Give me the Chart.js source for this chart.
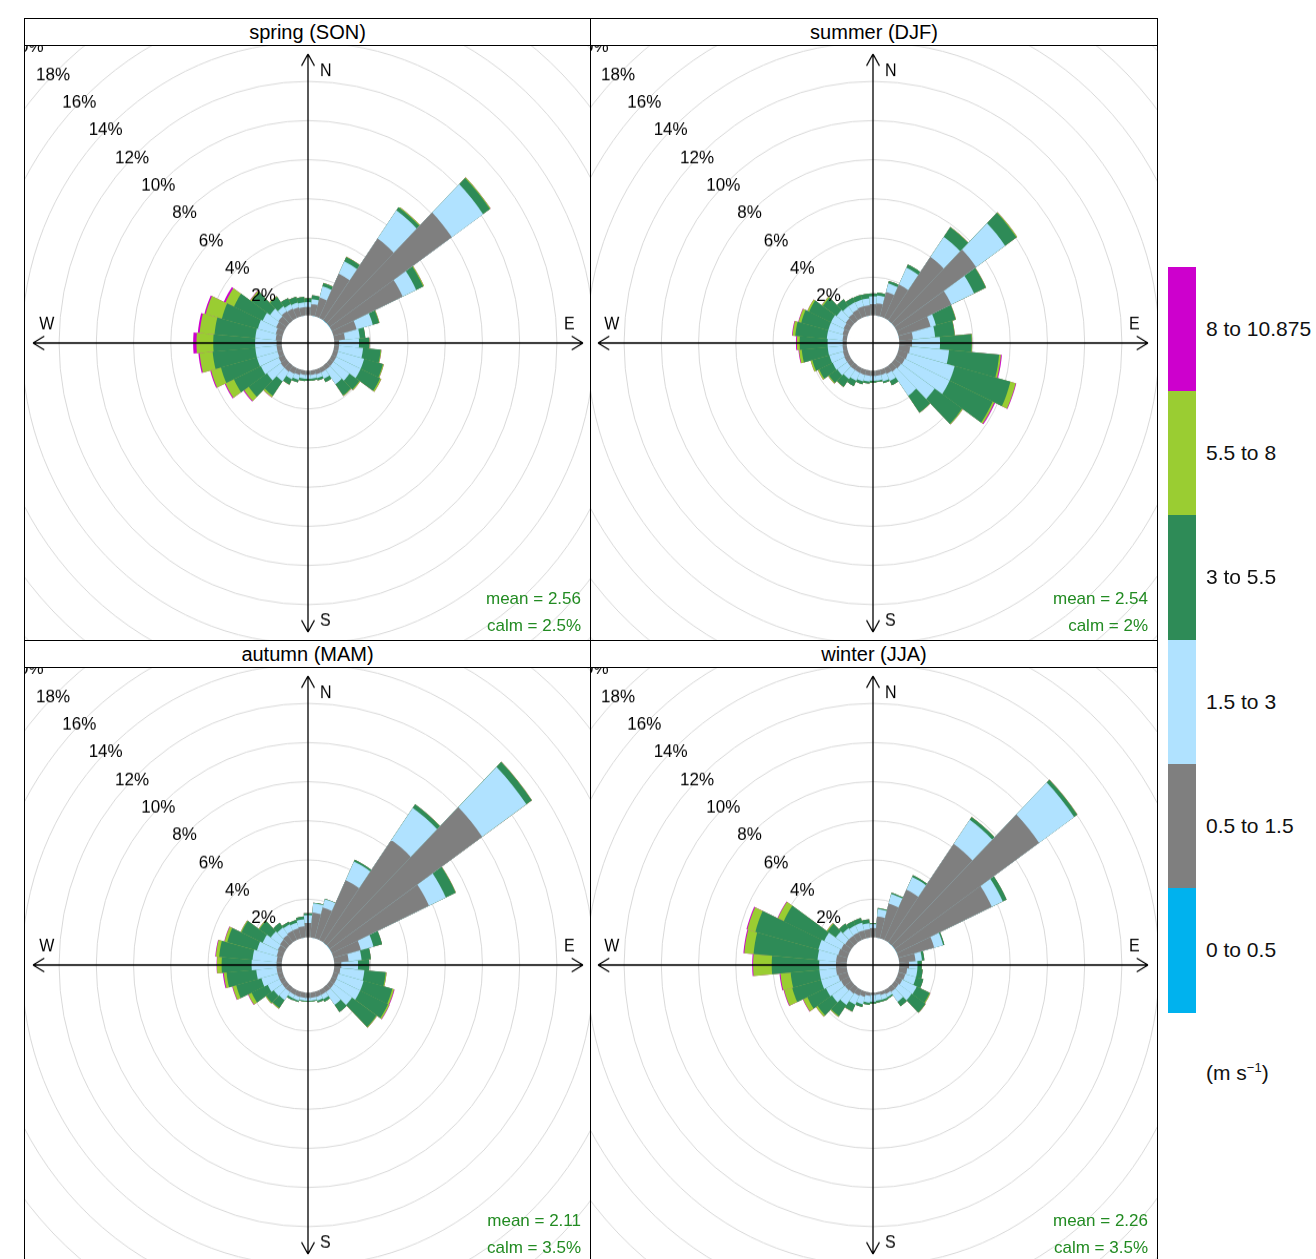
<!DOCTYPE html>
<html>
<head>
<meta charset="utf-8">
<title>Wind rose by season</title>
<script src="https://cdn.jsdelivr.net/npm/chart.js@4.4.1/dist/chart.umd.min.js"></script>
<style>
  html, body { margin: 0; padding: 0; background: #fff; }
  body { width: 1316px; height: 1259px; position: relative; overflow: hidden;
         font-family: "Liberation Sans", Arial, Helvetica, sans-serif; color: #000; }
  .panel { position: absolute; box-sizing: border-box; border: 1px solid #000; }
  .strip { position: absolute; left: 0; top: 0; right: 0; height: 27px; box-sizing: border-box;
           border-bottom: 1px solid #000; text-align: center; font-size: 20px; line-height: 26px; }
  .plot { position: absolute; left: 0; right: 0; top: 27px; bottom: 0; overflow: hidden; }
  .plot canvas { position: absolute; transform: scaleY(1.051); transform-origin: 50% 50%; }
  .stats { position: absolute; right: 9px; top: 539px; text-align: right; font-size: 17px;
           line-height: 27px; color: #228B22; }
  .key { position: absolute; left: 1168px; width: 28px; }
  .keylab { position: absolute; left: 1206px; font-size: 21px; line-height: 24px; color: #111; white-space: nowrap; }
  .keylab sup { font-size: 13px; line-height: 0; }
</style>
</head>
<body>
<script>
// wind direction bins (degrees, 10 degree sectors)
const directions = [0, 10, 20, 30, 40, 50, 60, 70, 80, 90, 100, 110, 120, 130, 140, 150, 160, 170,
                    180, 190, 200, 210, 220, 230, 240, 250, 260, 270, 280, 290, 300, 310, 320, 330, 340, 350];
const speedBins = ["0 to 0.5", "0.5 to 1.5", "1.5 to 3", "3 to 5.5", "5.5 to 8", "8 to 10.875"];
const binColours = ["#00B2EE", "#7F7F7F", "#B0E2FF", "#2E8B57", "#9ACD32", "#CD00CD"];
const panelTitles = ["spring (SON)", "summer (DJF)", "autumn (MAM)", "winter (JJA)"];
const meanSpeed = ["2.56", "2.54", "2.11", "2.26"];
const calmPct = ["2.5", "2", "3.5", "3.5"];
const gridTicks = [2, 4, 6, 8, 10, 12, 14, 16, 18, 20];

// frequencies (%) per direction for each speed bin
const spring_0_05  = [0.02,0.03,0.03,0.04,0.05,0.06,0.04,0.03,0.02,0.02, 0.02,0.02,0.02,0.02,0.02,0.01,0.01,0.01,0.01,0.01, 0.02,0.02,0.02,0.02,0.02,0.02,0.02,0.02,0.02,0.02, 0.02,0.02,0.02,0.02,0.02,0.02];
const spring_05_15 = [0.45,0.6,1.0,2.5,5.1,8.0,4.2,1.3,0.6,0.28, 0.28,0.28,0.28,0.28,0.28,0.28,0.28,0.25,0.25,0.25, 0.3,0.35,0.4,0.4,0.35,0.3,0.3,0.3,0.35,0.4, 0.5,0.55,0.6,0.55,0.5,0.45];
const spring_15_3  = [0.25,0.25,0.6,0.7,1.75,2.05,0.8,0.9,0.8,1.07, 1.3,1.45,1.45,1.05,0.9,0.35,0.2,0.2,0.2,0.2, 0.25,0.3,0.6,0.9,1.05,1.15,1.15,1.15,1.1,1.0, 0.8,0.55,0.3,0.25,0.25,0.25];
const spring_3_55  = [0.2,0.2,0.17,0.24,0.2,0.45,0.42,0.35,0.3,0.55, 0.95,1.05,1.15,0.65,0.7,0.2,0.12,0.1,0.1,0.12, 0.15,0.3,0.9,1.2,1.6,2.0,2.3,2.25,2.2,2.0, 1.7,1.2,0.6,0.35,0.3,0.28];
const spring_55_8  = [0,0,0.02,0.02,0.05,0.05,0.05,0.03,0,0.02, 0.04,0.05,0.08,0.05,0.04,0,0,0,0,0, 0,0.01,0.1,0.3,0.5,0.55,0.7,0.9,0.8,0.9, 0.5,0.1,0.05,0,0,0];
const spring_8_11  = [0,0,0,0,0,0,0,0,0,0, 0,0,0,0,0,0,0,0,0,0, 0,0,0.01,0.05,0.05,0.05,0.07,0.18,0.1,0.07, 0.1,0.02,0,0,0,0];

const summer_0_05  = [0.02,0.02,0.03,0.03,0.04,0.04,0.03,0.03,0.03,0.03, 0.03,0.02,0.02,0.02,0.02,0.02,0.01,0.01,0.01,0.01, 0.01,0.01,0.02,0.02,0.02,0.02,0.02,0.02,0.02,0.02, 0.02,0.02,0.02,0.02,0.02,0.02];
const summer_05_15 = [0.6,0.65,1.3,1.9,3.97,5.35,3.24,1.8,0.75,0.7, 0.6,0.55,0.5,0.45,0.4,0.35,0.3,0.3,0.3,0.3, 0.3,0.3,0.3,0.3,0.3,0.28,0.25,0.24,0.25,0.3, 0.35,0.4,0.45,0.5,0.55,0.55];
const summer_15_3  = [0.4,0.4,0.45,0.95,1.25,1.9,1.35,0.3,1.2,1.5, 2.1,2.6,2.65,2.2,1.5,0.4,0.35,0.25,0.25,0.3, 0.35,0.45,0.55,0.65,0.7,0.75,0.8,0.81,0.85,0.8, 0.75,0.6,0.45,0.4,0.35,0.35];
const summer_3_55  = [0.15,0.15,0.13,0.18,0.6,0.75,0.7,1.1,1.05,1.7, 2.7,3.1,2.55,1.8,1.05,0.25,0.1,0.08,0.1,0.1, 0.15,0.3,0.5,0.55,0.8,0.95,1.4,1.5,1.7,1.5, 1.3,0.9,0.45,0.27,0.25,0.25];
const summer_55_8  = [0,0,0,0,0.02,0.05,0.02,0.02,0.02,0.03, 0.1,0.3,0.1,0.05,0.02,0,0,0,0,0, 0,0,0.02,0.05,0.08,0.1,0.15,0.15,0.15,0.15, 0.1,0.07,0,0,0,0];
const summer_8_11  = [0,0,0,0,0,0,0,0,0,0, 0.05,0.03,0.05,0,0,0,0,0,0,0, 0,0,0,0,0,0,0.03,0.05,0.03,0.02, 0,0,0,0,0,0];

const autumn_0_05  = [0.02,0.02,0.03,0.03,0.04,0.05,0.04,0.03,0.02,0.02, 0.02,0.02,0.02,0.02,0.02,0.01,0.01,0.01,0.01,0.01, 0.01,0.01,0.02,0.02,0.02,0.02,0.02,0.02,0.02,0.02, 0.02,0.02,0.02,0.02,0.02,0.02];
const autumn_05_15 = [0.76,1.3,1.65,3.39,6.4,10.0,5.76,1.54,0.8,0.4, 0.35,0.3,0.3,0.3,0.3,0.3,0.3,0.3,0.3,0.3, 0.3,0.3,0.3,0.3,0.3,0.3,0.3,0.3,0.3,0.35, 0.4,0.45,0.5,0.55,0.55,0.6];
const autumn_15_3  = [0.4,0.48,0.43,1.05,2.0,2.9,1.0,0.7,0.7,0.9, 1.3,1.4,1.4,1.2,0.8,0.25,0.2,0.15,0.15,0.15, 0.2,0.2,0.5,0.55,0.7,0.9,1.1,1.34,1.3,1.1, 0.9,0.6,0.45,0.35,0.3,0.35];
const autumn_3_55  = [0.1,0.03,0.02,0.1,0.22,0.35,0.58,0.48,0.5,0.6, 1.15,1.6,1.65,1.6,0.45,0.14,0.1,0.05,0.05,0.05, 0.08,0.1,0.5,0.5,0.95,1.4,1.6,1.61,1.8,1.65, 1.25,0.75,0.3,0.15,0.15,0.15];
const autumn_55_8  = [0,0,0,0,0.01,0.02,0.02,0,0,0, 0.05,0.1,0.08,0.04,0,0,0,0,0,0, 0,0,0.04,0.05,0.2,0.2,0.15,0.25,0.18,0.15, 0.05,0.05,0,0,0,0];
const autumn_8_11  = [0,0,0,0,0,0,0,0,0,0, 0,0.03,0.02,0,0,0,0,0,0,0, 0,0,0,0,0.02,0.03,0.05,0.02,0.03,0.02, 0,0,0,0,0,0];

const winter_0_05  = [0.02,0.02,0.03,0.03,0.04,0.05,0.04,0.03,0.02,0.02, 0.02,0.02,0.02,0.02,0.02,0.01,0.01,0.01,0.01,0.01, 0.01,0.02,0.02,0.02,0.02,0.02,0.02,0.02,0.02,0.02, 0.02,0.02,0.02,0.02,0.02,0.02];
const winter_05_15 = [0.5,1.1,1.85,2.85,6.15,9.47,5.63,2.0,0.9,0.55, 0.45,0.4,0.35,0.3,0.3,0.25,0.2,0.15,0.15,0.2, 0.3,0.35,0.4,0.45,0.5,0.55,0.6,0.6,0.6,0.55, 0.5,0.45,0.45,0.45,0.45,0.45];
const winter_15_3  = [0.2,0.38,0.5,0.72,1.5,2.3,0.65,0.5,0.35,0.45, 0.55,0.6,0.85,0.85,0.6,0.18,0.25,0.3,0.35,0.35, 0.4,0.5,0.7,0.85,0.9,0.95,0.9,0.9,1.0,1.1, 1.0,0.6,0.45,0.4,0.4,0.3];
const winter_3_55  = [0.05,0.05,0.07,0.1,0.17,0.2,0.23,0.07,0.13,0.23, 0.29,0.41,0.77,0.9,0.29,0.08,0.1,0.1,0.1,0.12, 0.15,0.38,0.7,0.95,1.1,1.6,1.55,2.55,3.45,3.5, 2.4,0.55,0.3,0.25,0.25,0.2];
const winter_55_8  = [0,0,0,0,0.01,0.02,0,0,0,0, 0,0,0.05,0.02,0,0,0,0,0,0, 0,0.02,0.05,0.1,0.25,0.45,0.55,1.0,0.5,0.45, 0.35,0.05,0,0,0,0];
const winter_8_11  = [0,0,0,0,0,0,0,0,0,0, 0,0,0,0,0,0,0,0,0,0, 0,0,0,0,0.02,0.03,0.05,0.05,0.05,0.05, 0.03,0,0,0,0,0];

const seasons = [
  [spring_0_05, spring_05_15, spring_15_3, spring_3_55, spring_55_8, spring_8_11],
  [summer_0_05, summer_05_15, summer_15_3, summer_3_55, summer_55_8, summer_8_11],
  [autumn_0_05, autumn_05_15, autumn_15_3, autumn_3_55, autumn_55_8, autumn_8_11],
  [winter_0_05, winter_05_15, winter_15_3, winter_3_55, winter_55_8, winter_8_11]
];

const holePct = 1.37;    // radius of the empty calm circle, in % units
const axisLimit = 13.4;  // where the compass arrows stop
const scaleMax = 22.8;   // keeps the ring spacing of the original

const FONT = '"Liberation Sans", Arial, Helvetica, sans-serif';

// arrows, N/E/S/W and the % labels along the upper-left diagonal
const compass = {
  id: 'compass',
  afterDatasetsDraw(chart) {
    const s = chart.scales.r;
    const ctx = chart.ctx;
    const cx = s.xCenter, cy = s.yCenter;
    const R = s.getDistanceFromCenterForValue(axisLimit);
    ctx.save();
    ctx.strokeStyle = '#000';
    ctx.lineWidth = 1.3;
    ctx.beginPath();
    ctx.moveTo(cx - R, cy); ctx.lineTo(cx + R, cy);
    ctx.moveTo(cx, cy - R); ctx.lineTo(cx, cy + R);
    const tips = [[cx - R, cy, Math.PI], [cx + R, cy, 0], [cx, cy - R, -Math.PI / 2], [cx, cy + R, Math.PI / 2]];
    tips.forEach(([x, y, a]) => {
      [a + Math.PI - 0.52, a + Math.PI + 0.52].forEach(b => {
        ctx.moveTo(x, y);
        ctx.lineTo(x + 13 * Math.cos(b), y + 13 * Math.sin(b));
      });
    });
    ctx.stroke();

    ctx.fillStyle = '#000';
    ctx.font = '16px ' + FONT;
    ctx.textAlign = 'left';
    ctx.textBaseline = 'middle';
    ctx.fillText('N', cx + 12, cy - 0.95 * R + 3);
    ctx.fillText('S', cx + 12, cy + 0.95 * R + 3);
    ctx.textAlign = 'center';
    ctx.fillText('E', cx + 0.95 * R, cy - 17);
    ctx.fillText('W', cx - 0.95 * R, cy - 17);

    ctx.font = '17px ' + FONT;
    gridTicks.forEach(v => {
      const r = s.getDistanceFromCenterForValue(v);
      ctx.fillText(v + '%', cx - r * Math.SQRT1_2, cy - r * Math.SQRT1_2);
    });
    ctx.restore();
  }
};

const layout = [
  { left: 24, top: 18, width: 567, shift: -167 },
  { left: 590, top: 18, width: 568, shift: -168 },
  { left: 24, top: 640, width: 567, shift: -167 },
  { left: 590, top: 640, width: 568, shift: -168 }
];

seasons.forEach((bins, p) => {
  const box = layout[p];
  const panel = document.createElement('div');
  panel.className = 'panel';
  panel.style.left = box.left + 'px';
  panel.style.top = box.top + 'px';
  panel.style.width = box.width + 'px';
  panel.style.height = '623px';
  document.body.appendChild(panel);

  const strip = document.createElement('div');
  strip.className = 'strip';
  strip.textContent = panelTitles[p];
  panel.appendChild(strip);

  const plot = document.createElement('div');
  plot.className = 'plot';
  panel.appendChild(plot);

  const canvas = document.createElement('canvas');
  canvas.width = 900;
  canvas.height = 900;
  canvas.style.left = box.shift + 'px';
  canvas.style.top = '-153px';
  plot.appendChild(canvas);

  const stats = document.createElement('div');
  stats.className = 'stats';
  stats.innerHTML = 'mean = ' + meanSpeed[p] + '<br>calm = ' + calmPct[p] + '%';
  plot.appendChild(stats);

  // stacked rose: cumulative totals drawn as overlapping polar arcs
  let running = directions.map(() => 0);
  const stacked = bins.map((bin, k) => {
    running = running.map((v, i) => Math.round((v + bin[i]) * 1000) / 1000);
    return { label: speedBins[k], data: running.slice(), backgroundColor: binColours[k], borderWidth: 0 };
  });
  // the empty calm circle in the middle, painted white over the stack
  const calmHole = { label: 'calm', data: directions.map(() => 0), backgroundColor: '#ffffff',
                     borderColor: '#ffffff', borderWidth: 1.5 };

  new Chart(canvas, {
    type: 'polarArea',
    data: { labels: directions, datasets: [calmHole].concat(stacked) },
    options: {
      responsive: false,
      animation: false,
      events: [],
      layout: { padding: 0 },
      plugins: { legend: { display: false }, tooltip: { enabled: false } },
      scales: {
        r: {
          min: -holePct,
          max: scaleMax,
          startAngle: -5,
          ticks: { display: false, stepSize: 2 },
          angleLines: { display: false },
          pointLabels: { display: false },
          grid: {
            lineWidth: 1,
            color: c => (c.tick && gridTicks.includes(c.tick.value)) ? '#D9D9D9' : 'rgba(0,0,0,0)'
          }
        }
      }
    },
    plugins: [compass]
  });
});

// colour key on the right
const keyTop = 267, keyStep = 124.17;
speedBins.slice().reverse().forEach((lab, k) => {
  const sw = document.createElement('div');
  sw.className = 'key';
  sw.style.top = (keyTop + k * keyStep) + 'px';
  sw.style.height = (keyStep + 0.5) + 'px';
  sw.style.background = binColours[speedBins.length - 1 - k];
  document.body.appendChild(sw);
  const t = document.createElement('div');
  t.className = 'keylab';
  t.style.top = (keyTop + (k + 0.5) * keyStep - 12) + 'px';
  t.textContent = lab;
  document.body.appendChild(t);
});
const unit = document.createElement('div');
unit.className = 'keylab';
unit.style.top = '1061px';
unit.innerHTML = '(m s<sup>&minus;1</sup>)';
document.body.appendChild(unit);
</script>
</body>
</html>
